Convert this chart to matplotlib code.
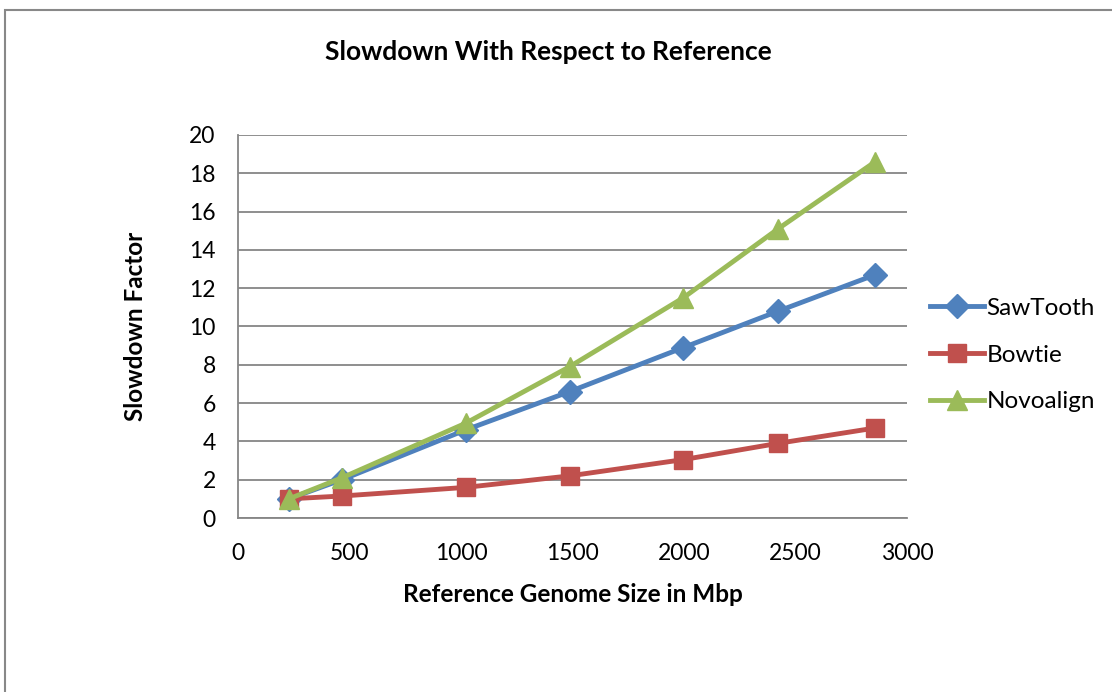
import matplotlib
matplotlib.use('Agg')
import matplotlib.pyplot as plt
from matplotlib.patches import Rectangle

plt.rcParams['font.family'] = ['Lato', 'DejaVu Sans']

genome_size = [228, 466, 1021, 1487, 1997, 2422, 2857]
sawtooth = [1.0, 2.0, 4.6, 6.6, 8.9, 10.8, 12.7]
bowtie = [1.0, 1.15, 1.6, 2.2, 3.05, 3.9, 4.7]
novoalign = [1.0, 2.1, 4.95, 7.9, 11.5, 15.1, 18.6]

fig = plt.figure(figsize=(11.12, 6.92), dpi=100)
ax = fig.add_axes([0.214, 0.2514, 0.6017, 0.5536])

ax.plot(genome_size, sawtooth, color='#4F81BD', lw=3.5, marker='D', ms=12, label='SawTooth')
ax.plot(genome_size, bowtie, color='#C0504D', lw=3.5, marker='s', ms=13, label='Bowtie')
ax.plot(genome_size, novoalign, color='#9BBB59', lw=3.5, marker='^', ms=15, label='Novoalign')

ax.set_xlim(0, 3000)
ax.set_ylim(0, 20)
ax.set_xticks(range(0, 3001, 500))
ax.set_yticks(range(0, 21, 2))
ax.yaxis.grid(True, color='#868686', lw=1.3)
ax.set_axisbelow(True)
for side in ['top', 'right']:
    ax.spines[side].set_visible(False)
for side in ['left', 'bottom']:
    ax.spines[side].set_color('#868686')
    ax.spines[side].set_linewidth(1.3)
ax.tick_params(length=0, labelsize=16.5)
ax.tick_params(axis='x', pad=18)
ax.tick_params(axis='y', pad=16)

ax.set_xlabel('Reference Genome Size in Mbp', fontsize=17.5, fontweight='bold', labelpad=14)
ax.set_ylabel('Slowdown Factor', fontsize=17.5, fontweight='bold', labelpad=30)
fig.text(0.493, 0.925, 'Slowdown With Respect to Reference', ha='center', va='center',
         fontsize=19, fontweight='bold')

ax.legend(loc='center left', bbox_to_anchor=(0.828, 0.487), bbox_transform=fig.transFigure,
          frameon=False, fontsize=17.5, handlelength=2.2, handletextpad=0.1,
          labelspacing=1.05, borderaxespad=0)

# chart border
fig.patches.append(Rectangle((4.5 / 1112, -0.05), 1.1, 1.05 - 10 / 692, transform=fig.transFigure,
                             fill=False, edgecolor='#888888', lw=1.5))

fig.savefig('out.png', dpi=100)
